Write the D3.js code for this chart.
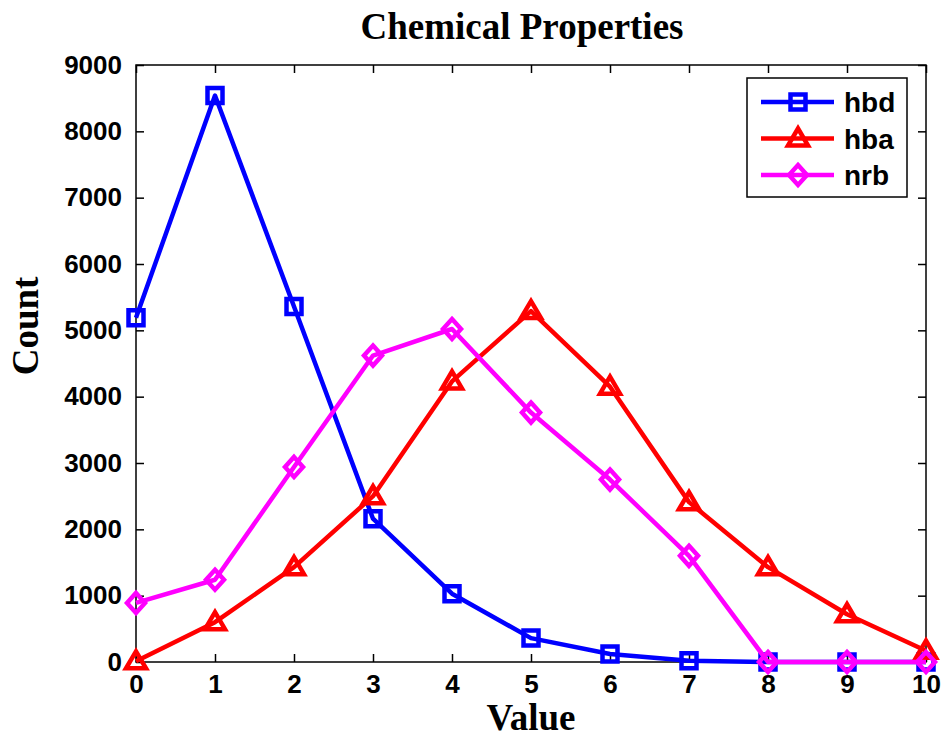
<!DOCTYPE html>
<html>
<head>
<meta charset="utf-8">
<script src="https://cdn.jsdelivr.net/npm/d3@7"></script>
<style>
  body { margin: 0; background: #fff; }
  svg text { fill: #000; }
</style>
</head>
<body>
<svg id="chart" width="942" height="736"></svg>
<script>
const values = [0, 1, 2, 3, 4, 5, 6, 7, 8, 9, 10]
const hbd = [5190, 8540, 5360, 2160, 1030, 360, 120, 20, 0, 0, 0]
const hba = [10, 600, 1430, 2500, 4230, 5290, 4150, 2410, 1430, 720, 170]
const nrb = [890, 1240, 2940, 4620, 5020, 3760, 2750, 1600, 0, 0, 0]
const yTicks = [0, 1000, 2000, 3000, 4000, 5000, 6000, 7000, 8000, 9000]

const series = [
  { name: 'hbd', data: hbd, color: '#0000ff', symbol: 'square' },
  { name: 'hba', data: hba, color: '#ff0000', symbol: 'triangle' },
  { name: 'nrb', data: nrb, color: '#ff00ff', symbol: 'diamond' }
]

const svg = d3.select('#chart')
const margin = { left: 136, right: 16, top: 65, bottom: 74 }
const width = +svg.attr('width')
const height = +svg.attr('height')
const innerWidth = width - margin.left - margin.right
const innerHeight = height - margin.top - margin.bottom

const x = d3.scaleLinear().domain([0, 10]).range([0, innerWidth])
const y = d3.scaleLinear().domain([0, 9000]).range([innerHeight, 0])

const g = svg.append('g').attr('transform', `translate(${margin.left},${margin.top})`)

const sans = 'Arial, "Liberation Sans", sans-serif'
const serif = '"Times New Roman", "Liberation Serif", serif'

// axes box with inward ticks
const tickLen = 8
const axisStyle = sel => {
  sel.select('.domain').remove()
  sel.selectAll('.tick line').attr('stroke', '#000').attr('stroke-width', 1.5)
  sel.selectAll('.tick text').style('font-family', sans).style('font-size', '26px').style('font-weight', 'bold')
}
const noLabels = sel => {
  sel.select('.domain').remove()
  sel.selectAll('.tick text').remove()
  sel.selectAll('.tick line').attr('stroke', '#000').attr('stroke-width', 1.5)
}
g.append('g').attr('transform', `translate(0,${innerHeight})`)
  .call(d3.axisBottom(x).tickValues(values).tickFormat(d3.format('d')).tickSizeInner(-tickLen).tickSizeOuter(0).tickPadding(13))
  .call(axisStyle)
g.append('g').call(d3.axisTop(x).tickValues(values).tickSizeInner(-tickLen).tickSizeOuter(0))
  .call(noLabels)
g.append('g')
  .call(d3.axisLeft(y).tickValues(yTicks).tickFormat(d3.format('d')).tickSizeInner(-tickLen).tickSizeOuter(0).tickPadding(14))
  .call(axisStyle)
g.append('g').attr('transform', `translate(${innerWidth},0)`)
  .call(d3.axisRight(y).tickValues(yTicks).tickSizeInner(-tickLen).tickSizeOuter(0))
  .call(noLabels)
g.append('rect').attr('width', innerWidth).attr('height', innerHeight)
  .attr('fill', 'none').attr('stroke', '#000').attr('stroke-width', 1.5)

const symbolPath = (type, cx, cy) => {
  if (type === 'square') {
    const s = 7.5
    return `M${cx - s},${cy - s}H${cx + s}V${cy + s}H${cx - s}Z`
  }
  if (type === 'triangle') {
    return `M${cx},${cy - 10}L${cx + 10},${cy + 7}L${cx - 10},${cy + 7}Z`
  }
  return `M${cx},${cy - 10}L${cx + 9},${cy}L${cx},${cy + 10}L${cx - 9},${cy}Z`
}

const line = d3.line().x((d, i) => x(values[i])).y(d => y(d))

series.forEach(s => {
  const sg = g.append('g').attr('class', 'series')
  sg.append('path').datum(s.data)
    .attr('d', line)
    .attr('fill', 'none')
    .attr('stroke', s.color)
    .attr('stroke-width', 4.5)
    .attr('stroke-linejoin', 'round')
  sg.selectAll('path.marker').data(s.data).enter().append('path')
    .attr('class', 'marker')
    .attr('d', (d, i) => symbolPath(s.symbol, x(values[i]), y(d)))
    .attr('fill', 'none')
    .attr('stroke', s.color)
    .attr('stroke-width', 4.5)
})

// legend
const lg = svg.append('g').attr('transform', 'translate(747,78)')
lg.append('rect').attr('width', 160).attr('height', 119)
  .attr('fill', '#fff').attr('stroke', '#000').attr('stroke-width', 1.5)
series.forEach((s, i) => {
  const cy = 24 + i * 36.5
  lg.append('line').attr('x1', 14).attr('x2', 87).attr('y1', cy).attr('y2', cy)
    .attr('stroke', s.color).attr('stroke-width', 4.5)
  lg.append('path').attr('d', symbolPath(s.symbol, 51, cy))
    .attr('fill', 'none').attr('stroke', s.color).attr('stroke-width', 4.5)
  lg.append('text').attr('x', 97).attr('y', cy + 10)
    .style('font-family', sans).style('font-size', '28px').style('font-weight', 'bold')
    .text(s.name)
})

// titles
svg.append('text').attr('x', 522).attr('y', 39).attr('text-anchor', 'middle')
  .style('font-family', serif).style('font-weight', 'bold').style('font-size', '37px')
  .text('Chemical Properties')
svg.append('text').attr('x', margin.left + innerWidth / 2).attr('y', 730).attr('text-anchor', 'middle')
  .style('font-family', serif).style('font-weight', 'bold').style('font-size', '37px')
  .text('Value')
svg.append('text').attr('transform', 'translate(38,326) rotate(-90)')
  .attr('text-anchor', 'middle')
  .style('font-family', serif).style('font-weight', 'bold').style('font-size', '37px')
  .text('Count')
</script>
</body>
</html>
